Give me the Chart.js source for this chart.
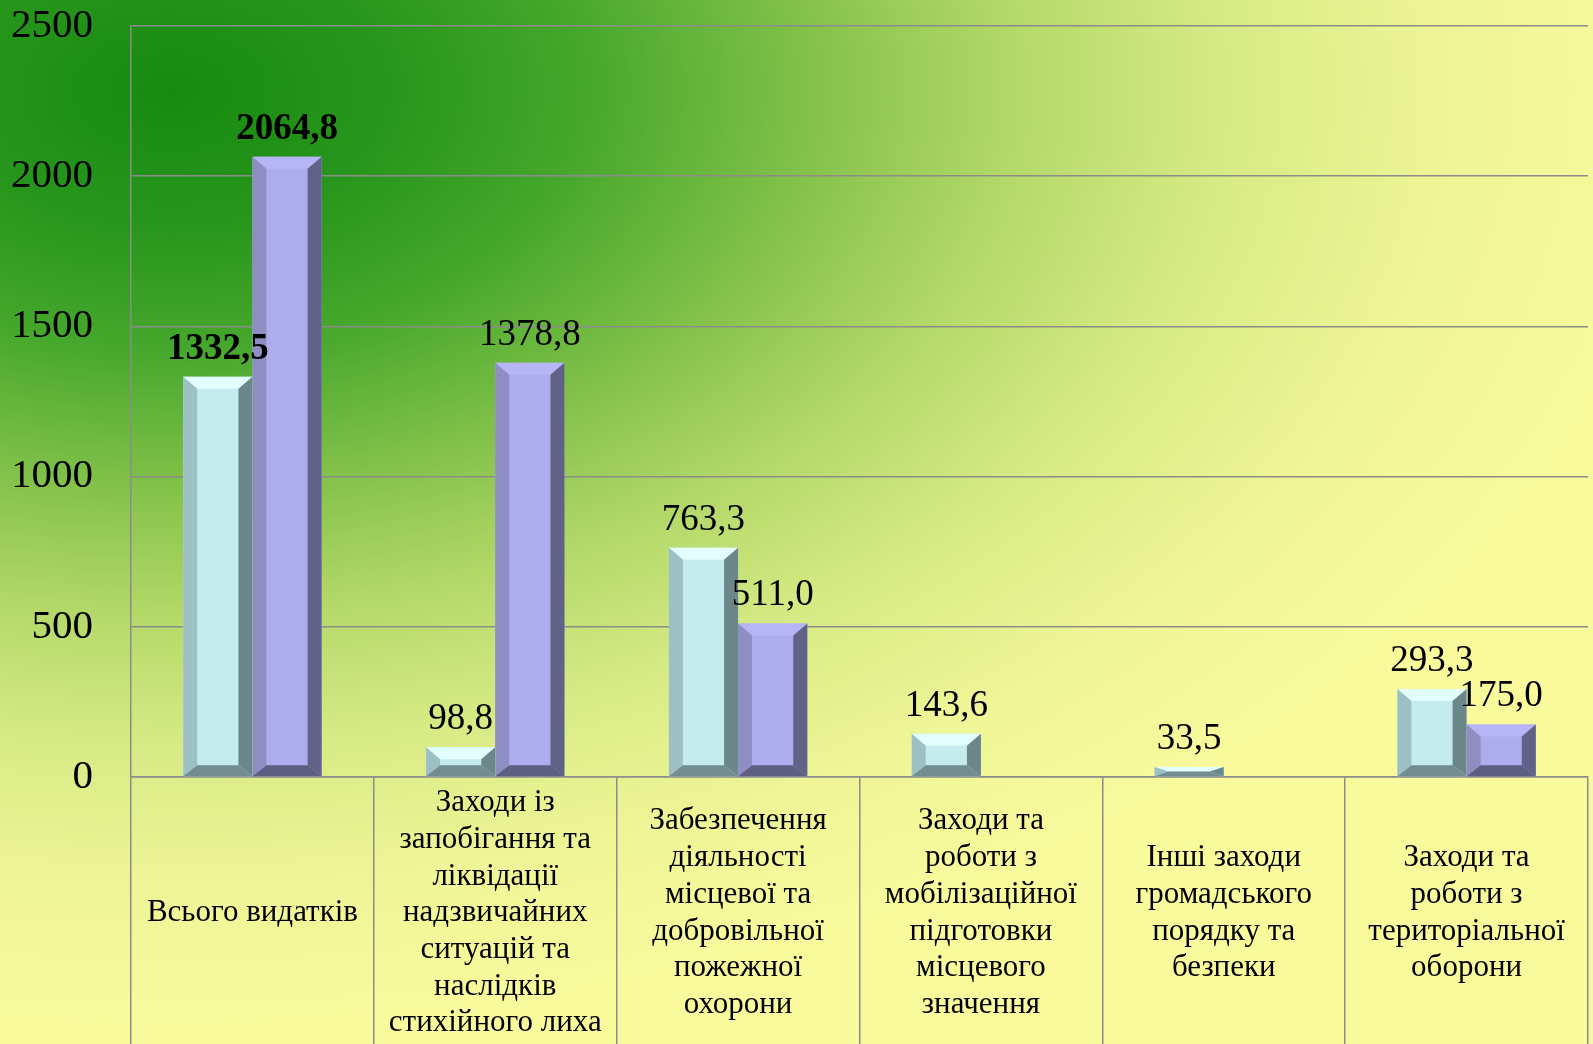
<!DOCTYPE html>
<html>
<head>
<meta charset="utf-8">
<script src="https://cdn.jsdelivr.net/npm/chart.js@4.4.1/dist/chart.umd.min.js"></script>
<style>
  html, body { margin: 0; padding: 0; overflow: hidden; }
  #wrap {
    width: 1593px; height: 1044px; position: relative;
    background: radial-gradient(ellipse 1500px 930px at 170px 90px,
      #168a10 0%, #28961c 15%, #46a82c 28%, #80c048 42%, #b2d868 56%,
      #d6ea84 70%, #eef596 85%, #f8fa9c 100%);
  }
</style>
</head>
<body>
<div id="wrap"><canvas id="budgetChart"></canvas></div>
<script>
const categories = [
    ["Всього видатків"],
    ["Заходи із", "запобігання та", "ліквідації", "надзвичайних", "ситуацій та", "наслідків", "стихійного лиха"],
    ["Забезпечення", "діяльності", "місцевої та", "добровільної", "пожежної", "охорони"],
    ["Заходи та", "роботи з", "мобілізаційної", "підготовки", "місцевого", "значення"],
    ["Інші заходи", "громадського", "порядку та", "безпеки"],
    ["Заходи та", "роботи з", "територіальної", "оборони"]
];
const seriesA = [1332.5, 98.8, 763.3, 143.6, 33.5, 293.3];
const seriesB = [2064.8, 1378.8, 511.0, null, null, 175.0];
const yTicks = [0, 500, 1000, 1500, 2000, 2500];

const serif = "'Liberation Serif', 'Times New Roman', serif";

// bevel shades for each series: face, top, left, right, bottom
const shades = [
    { face: "#c4ecee", top: "#e2feff", left: "#9cc0c3", right: "#6b8789", bottom: "#718d8f" },
    { face: "#adadee", top: "#b6b6f6", left: "#8e8ec3", right: "#626286", bottom: "#5e5e82" }
];

function poly(ctx, pts, color) {
    ctx.beginPath();
    ctx.moveTo(pts[0][0], pts[0][1]);
    for (let i = 1; i < pts.length; i++) ctx.lineTo(pts[i][0], pts[i][1]);
    ctx.closePath();
    ctx.fillStyle = color;
    ctx.fill();
}

let bevelPlugin = {
    id: "bevel",
    afterDatasetDraw(chart, args) {
        const ctx = chart.ctx;
        const c = shades[args.index];
        args.meta.data.forEach(el => {
            const p = el.getProps(["x", "y", "base", "width"], true);
            if (p.y == null || isNaN(p.y)) return;
            const l = p.x - p.width / 2, r = p.x + p.width / 2;
            const t = Math.min(p.y, p.base), b = Math.max(p.y, p.base);
            const h = b - t;
            if (h <= 0) return;
            const bx = Math.min(14, p.width / 2);
            const bt = Math.min(12, h / 2);
            const bb = Math.min(11, h / 2);
            ctx.save();
            poly(ctx, [[l, t], [r, t], [r - bx, t + bt], [l + bx, t + bt]], c.top);
            poly(ctx, [[l, t], [l + bx, t + bt], [l + bx, b - bb], [l, b]], c.left);
            poly(ctx, [[r, t], [r, b], [r - bx, b - bb], [r - bx, t + bt]], c.right);
            poly(ctx, [[l, b], [l + bx, b - bb], [r - bx, b - bb], [r, b]], c.bottom);
            ctx.restore();
        });
    }
};

let valueLabels = {
    id: "valueLabels",
    afterDatasetsDraw(chart) {
        const ctx = chart.ctx;
        ctx.save();
        ctx.fillStyle = "#000";
        ctx.textAlign = "center";
        ctx.textBaseline = "alphabetic";
        chart.data.datasets.forEach((ds, di) => {
            chart.getDatasetMeta(di).data.forEach((el, i) => {
                const v = ds.data[i];
                if (v == null) return;
                ctx.font = (i === 0 ? "bold " : "") + "37px " + serif;
                ctx.fillText(v.toFixed(1).replace(".", ","), el.x, el.y - 18);
            });
        });
        ctx.restore();
    }
};

let budgetChart = new Chart(document.getElementById("budgetChart"), {
    type: 'bar',
    data: {
        labels: categories,
        datasets: [
            {
                label: "Series A",
                backgroundColor: shades[0].face,
                data: seriesA
            },
            {
                label: "Series B",
                backgroundColor: shades[1].face,
                data: seriesB
            }
        ]
    },
    options: {
        responsive: true,
        maintainAspectRatio: false,
        animation: false,
        layout: { padding: { top: 26, right: 5, left: 0, bottom: 0 } },
        plugins: {
            legend: { display: false },
            title: { display: false },
            tooltip: { enabled: false }
        },
        datasets: {
            bar: { categoryPercentage: 0.57, barPercentage: 1.0, borderWidth: 0 }
        },
        scales: {
            x: {
                afterFit(scale) { scale.height = 267; },
                border: { display: true, color: "#8c8c8c", width: 1.5 },
                grid: {
                    drawOnChartArea: false,
                    drawTicks: true,
                    tickLength: 267,
                    color: "#8c8c8c",
                    lineWidth: 1.5,
                    offset: true
                },
                ticks: {
                    padding: -241,
                    maxRotation: 0,
                    autoSkip: false,
                    crossAlign: "center",
                    color: "#000",
                    font: { family: serif, size: 31, lineHeight: 1.184 }
                }
            },
            y: {
                min: yTicks[0],
                max: yTicks[yTicks.length - 1],
                afterFit(scale) { scale.width = 131; },
                afterBuildTicks(scale) { scale.ticks = yTicks.map(v => ({ value: v })); },
                border: { display: true, color: "#8c8c8c", width: 1.5 },
                grid: {
                    color: "#8c8c8c",
                    lineWidth: 1.5,
                    drawTicks: true,
                    tickLength: 38,
                    tickColor: "rgba(0,0,0,0)"
                },
                ticks: {
                    padding: 0,
                    color: "#000",
                    font: { family: serif, size: 41 },
                    callback: v => String(v)
                }
            }
        }
    },
    plugins: [bevelPlugin, valueLabels]
});
</script>
</body>
</html>
